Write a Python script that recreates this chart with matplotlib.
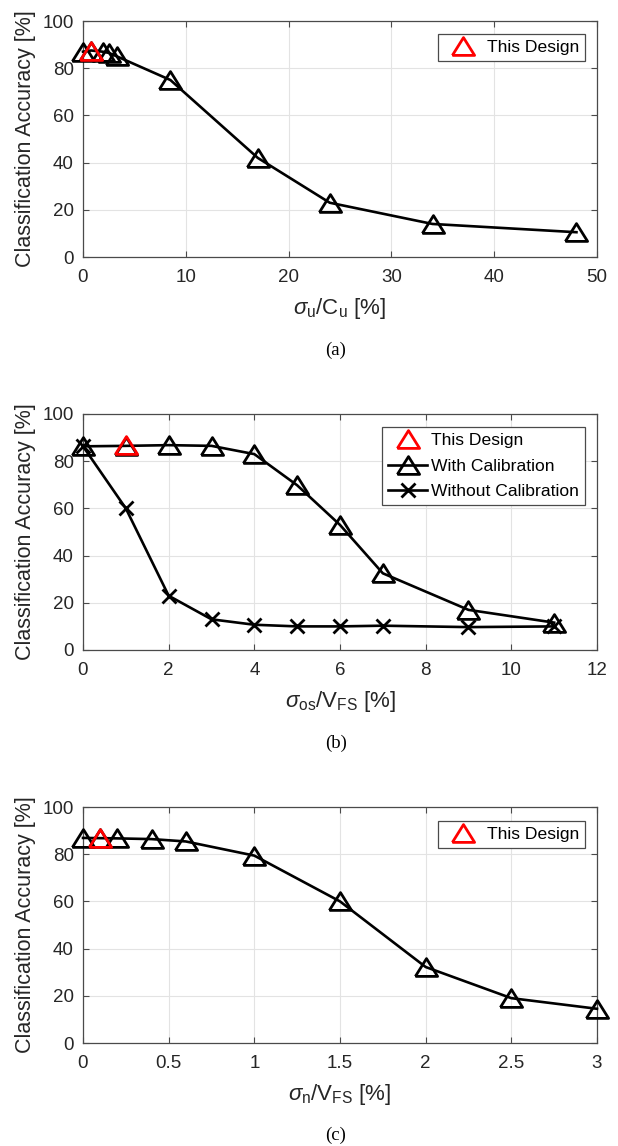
import matplotlib
matplotlib.use('Agg')
import matplotlib.pyplot as plt
from matplotlib.lines import Line2D

plt.rcParams['font.family'] = ['Liberation Sans', 'DejaVu Sans']
plt.rcParams['mathtext.fontset'] = 'custom'
plt.rcParams['mathtext.rm'] = 'Liberation Sans'
plt.rcParams['mathtext.it'] = 'Liberation Sans:italic'
plt.rcParams['mathtext.sf'] = 'Liberation Sans'

# ---------------- data ----------------
# (a) capacitor mismatch
a_x = [0, 0.8, 1.9, 2.5, 3.3, 8.5, 17, 24, 34, 48]
a_y = [87, 87.5, 87, 86.5, 85, 75, 42, 23, 14, 10.5]
a_design_x = [0.8]
a_design_y = [87.5]

# (b) comparator offset
b_x = [0, 1, 2, 3, 4, 5, 6, 7, 9, 11]
b_cal_y = [86.3, 86.5, 86.8, 86.5, 83, 69.8, 53, 32.5, 17, 11.6]
b_nocal_y = [86.3, 60, 23, 13, 10.7, 10, 10, 10.3, 9.7, 10]
b_design_x = [1]
b_design_y = [86.7]

# (c) noise
c_x = [0, 0.1, 0.2, 0.4, 0.6, 1.0, 1.5, 2.0, 2.5, 3.0]
c_y = [86.9, 86.8, 86.7, 86.4, 85.4, 79.4, 60, 32.2, 19, 14.5]
c_design_x = [0.1]
c_design_y = [87.0]

yticks = [0, 20, 40, 60, 80, 100]
a_xticks = [0, 10, 20, 30, 40, 50]
b_xticks = [0, 2, 4, 6, 8, 10, 12]
c_xticks = [0, 0.5, 1, 1.5, 2, 2.5, 3]
c_xticklabels = ['0', '0.5', '1', '1.5', '2', '2.5', '3']

# ---------------- style ----------------
TRI = [(-1, -0.8), (1, -0.8), (0, 0.8), (-1, -0.8)]
MS = 16
MEW = 2.0
LW = 1.9
TXT = '#262626'
TICKFS = 13.5
LABFS = 15.5
LEGFS = 12.6

W, H = 618, 1146
fig = plt.figure(figsize=(W / 100, H / 100), dpi=100)


def make_ax(top_px, bot_px):
    left, right = 83, 597
    return fig.add_axes([left / W, 1 - bot_px / H, (right - left) / W, (bot_px - top_px) / H])


def style(ax, xticks, xlim, xlabel, xticklabels=None):
    ax.set_xlim(*xlim)
    ax.set_ylim(0, 100)
    ax.set_xticks(xticks)
    if xticklabels is not None:
        ax.set_xticklabels(xticklabels)
    ax.set_yticks(yticks)
    ax.grid(True, color='#e3e3e3', lw=0.8)
    ax.set_axisbelow(True)
    for s in ax.spines.values():
        s.set_color('#4a4a4a')
        s.set_linewidth(0.9)
    ax.tick_params(direction='in', length=4, width=0.8, color='#4a4a4a',
                   labelsize=TICKFS, labelcolor=TXT, top=True, right=True)
    ax.tick_params(axis='x', pad=8.5)
    ax.tick_params(axis='y', pad=6.5)
    ax.set_ylabel('Classification Accuracy [%]', fontsize=LABFS, color=TXT)
    ax.yaxis.set_label_coords(-0.092, 0.5)
    ax.set_xlabel(xlabel, fontsize=16, color=TXT)
    ax.xaxis.set_label_coords(0.5, -0.165)


def legend(ax, handles, labels, anchor):
    leg = ax.legend(handles, labels, loc='upper right', bbox_to_anchor=anchor,
                    borderaxespad=0, fontsize=LEGFS, frameon=True, fancybox=False,
                    edgecolor='#4a4a4a', framealpha=1, borderpad=0.35,
                    handlelength=2.2, handletextpad=0.25, labelspacing=0.58)
    leg.get_frame().set_linewidth(0.9)
    for t in leg.get_texts():
        t.set_color('black')


def tri_plot(ax, x, y, color, line=True):
    ax.plot(x, y, color='black', lw=LW if line else 0, ls='-' if line else 'none',
            marker=TRI, ms=MS, mew=MEW, mfc='none', mec=color, clip_on=False, zorder=3)


design_handle = Line2D([], [], ls='none', marker=TRI, ms=MS, mew=MEW,
                       mfc='none', mec='red')

# (a)
ax = make_ax(21, 257)
tri_plot(ax, a_x, a_y, 'black')
tri_plot(ax, a_design_x, a_design_y, 'red', line=False)
style(ax, a_xticks, (0, 50), r'$\sigma_{\rm u}$/C$_{\rm u}$ [%]')
legend(ax, [design_handle], ['This Design'], (0.977, 0.945))

# (b)
ax = make_ax(414, 650)
ax.plot(b_x, b_nocal_y, color='black', lw=LW, marker='x', ms=10, mew=MEW, clip_on=False, zorder=3)
tri_plot(ax, b_x, b_cal_y, 'black')
tri_plot(ax, b_design_x, b_design_y, 'red', line=False)
style(ax, b_xticks, (0, 12), r'$\sigma_{\rm os}$/V$_{\rm FS}$ [%]')
cal_handle = Line2D([], [], color='black', lw=LW, marker=TRI, ms=MS, mew=MEW, mfc='none', mec='black')
nocal_handle = Line2D([], [], color='black', lw=LW, marker='x', ms=10, mew=MEW)
legend(ax, [design_handle, cal_handle, nocal_handle],
       ['This Design', 'With Calibration', 'Without Calibration'], (0.977, 0.945))

# (c)
ax = make_ax(807, 1043)
tri_plot(ax, c_x, c_y, 'black')
tri_plot(ax, c_design_x, c_design_y, 'red', line=False)
style(ax, c_xticks, (0, 3), r'$\sigma_{\rm n}$/V$_{\rm FS}$ [%]', c_xticklabels)
legend(ax, [design_handle], ['This Design'], (0.977, 0.941))

# captions
for lab, ypx in [('(a)', 350), ('(b)', 743), ('(c)', 1135)]:
    fig.text(336 / W, 1 - ypx / H, lab, ha='center', va='center',
             fontsize=13.5, family='Liberation Serif', color='black')

fig.savefig('out.png', dpi=100)
